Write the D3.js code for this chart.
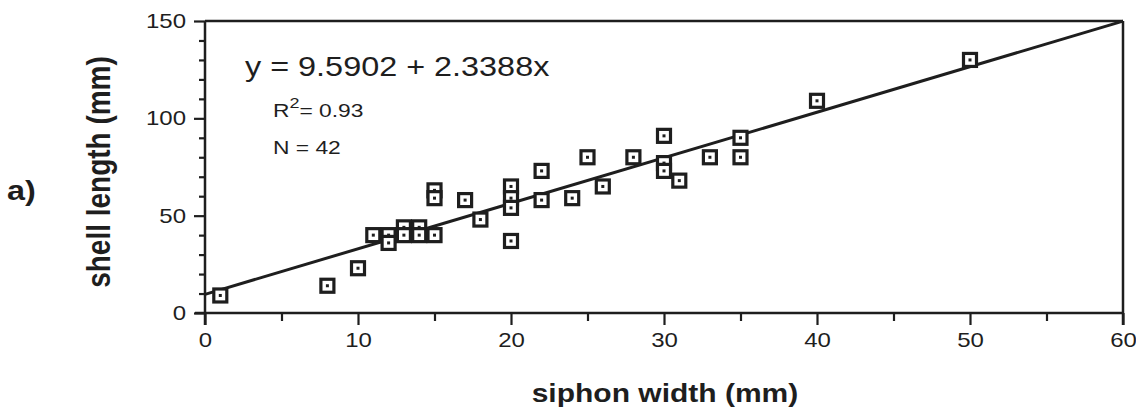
<!DOCTYPE html>
<html>
<head>
<meta charset="utf-8">
<script src="https://cdn.jsdelivr.net/npm/d3@7"></script>
<style>
  body { margin: 0; background: #fff; }
  text { font-family: "Liberation Sans", Arial, sans-serif; fill: #1e1e1e; }
</style>
</head>
<body>
<div id="chart"></div>
<script>
//Data
var siphonWidth = [1, 8, 10, 11, 12, 12, 13, 14, 13, 14, 15, 15, 15, 17, 18, 20, 20, 20, 20,
    22, 22, 24, 25, 26, 28, 30, 30, 30, 31, 33, 35, 35, 40, 50];
var shellLength = [9, 14, 23, 40, 40, 36, 44, 44, 40, 40, 40, 63, 59, 58, 48, 65, 59, 54, 37,
    73, 58, 59, 80, 65, 80, 91, 77, 73, 68, 80, 90, 80, 109, 130];
var fitIntercept = 9.5902;
var fitSlope = 2.3388;
var xMajorTicks = [0, 10, 20, 30, 40, 50, 60];
var xMinorTicks = [5, 15, 25, 35, 45, 55];
var yMajorTicks = [0, 50, 100, 150];
var yMinorTicks = [10, 20, 30, 40, 60, 70, 80, 90, 110, 120, 130, 140];

var points = siphonWidth.map((d, i) => ({ x: d, y: shellLength[i] }));

//Setup
var width = 1136, height = 418;
var ink = "#1e1e1e";
var stretch = 1.2; // the scan is a bit wider than tall, text too

var x = d3.scaleLinear().domain([0, 60]).range([205, 1123]);
var y = d3.scaleLinear().domain([0, 150]).range([313, 21]);

var svg = d3.select("#chart")
    .append("svg")
    .attr("width", width)
    .attr("height", height);

//Frame (top and right)
svg.append("line")
    .attr("x1", x(0)).attr("x2", x(60))
    .attr("y1", y(150)).attr("y2", y(150))
    .attr("stroke", ink).attr("stroke-width", 2.5);
svg.append("line")
    .attr("x1", x(60)).attr("x2", x(60))
    .attr("y1", y(150)).attr("y2", y(0) + 12)
    .attr("stroke", ink).attr("stroke-width", 2.5);

//Axis lines, crossing at the origin
svg.append("line")
    .attr("x1", x(0) - 10).attr("x2", x(60))
    .attr("y1", y(0)).attr("y2", y(0))
    .attr("stroke", ink).attr("stroke-width", 2.5);
svg.append("line")
    .attr("x1", x(0)).attr("x2", x(0))
    .attr("y1", y(150)).attr("y2", y(0) + 12)
    .attr("stroke", ink).attr("stroke-width", 2.5);

//X axis ticks
var xMajor = svg.append("g")
    .attr("transform", `translate(0, ${y(0)})`)
    .call(d3.axisBottom(x).tickValues(xMajorTicks).tickSize(12).tickPadding(8).tickFormat(d3.format("d")));
var xMinor = svg.append("g")
    .attr("transform", `translate(0, ${y(0)})`)
    .call(d3.axisBottom(x).tickValues(xMinorTicks).tickSize(8).tickFormat(""));

//Y axis ticks
var yMajor = svg.append("g")
    .attr("transform", `translate(${x(0)}, 0)`)
    .call(d3.axisLeft(y).tickValues(yMajorTicks).tickSize(11).tickPadding(8).tickFormat(d3.format("d")));
var yMinor = svg.append("g")
    .attr("transform", `translate(${x(0)}, 0)`)
    .call(d3.axisLeft(y).tickValues(yMinorTicks).tickSize(6).tickFormat(""));

svg.selectAll(".domain").remove();
svg.selectAll(".tick line").attr("stroke", ink).attr("stroke-width", 2.2);

xMajor.selectAll(".tick text")
    .attr("font-size", 20)
    .attr("fill", ink)
    .attr("transform", `scale(${stretch}, 1)`)
    .attr("x", 0);
yMajor.selectAll(".tick text")
    .attr("font-size", 20)
    .attr("fill", ink)
    .attr("x", -19 / stretch)
    .attr("transform", `scale(${stretch}, 1)`);

//Regression line
var fitLine = d3.line()
    .x(d => x(d))
    .y(d => y(fitIntercept + fitSlope * d));
svg.append("path")
    .attr("d", fitLine([0, 60]))
    .attr("fill", "none")
    .attr("stroke", ink)
    .attr("stroke-width", 3);

//Square markers with a dot inside
var markers = svg.append("g").selectAll("g")
    .data(points)
    .enter().append("g")
    .attr("transform", d => `translate(${x(d.x)}, ${y(d.y)})`);
markers.append("rect")
    .attr("x", -6.5).attr("y", -6.5)
    .attr("width", 13).attr("height", 13)
    .attr("fill", "#fff")
    .attr("stroke", ink)
    .attr("stroke-width", 3.2);
markers.append("rect")
    .attr("x", -1.5).attr("y", -1.5)
    .attr("width", 3).attr("height", 3)
    .attr("fill", ink);

//Equation and stats
function stretchedText(tx, ty, size, weight) {
    return svg.append("text")
        .attr("transform", `translate(${tx}, ${ty}) scale(${stretch}, 1)`)
        .attr("font-size", size)
        .attr("font-weight", weight || "normal");
}
stretchedText(245, 76, 27).text("y = 9.5902 + 2.3388x");
var r2 = stretchedText(273, 117, 19);
r2.append("tspan").text("R");
r2.append("tspan").attr("dy", -9).attr("font-size", 15).text("2");
r2.append("tspan").attr("dy", 9).text("= 0.93");
stretchedText(273, 154, 19).text("N = 42");

//Axis titles
svg.append("text")
    .attr("transform", `scale(${stretch}, 1)`)
    .attr("x", 665 / stretch)
    .attr("y", 402)
    .attr("text-anchor", "middle")
    .attr("font-size", 25)
    .attr("font-weight", "bold")
    .text("siphon width (mm)");

svg.append("text")
    .attr("transform", `translate(110, 172) rotate(-90) scale(1, ${stretch})`)
    .attr("text-anchor", "middle")
    .attr("font-size", 28)
    .attr("font-weight", "bold")
    .text("shell length (mm)");

stretchedText(7, 200, 27, "bold").text("a)");
</script>
</body>
</html>
